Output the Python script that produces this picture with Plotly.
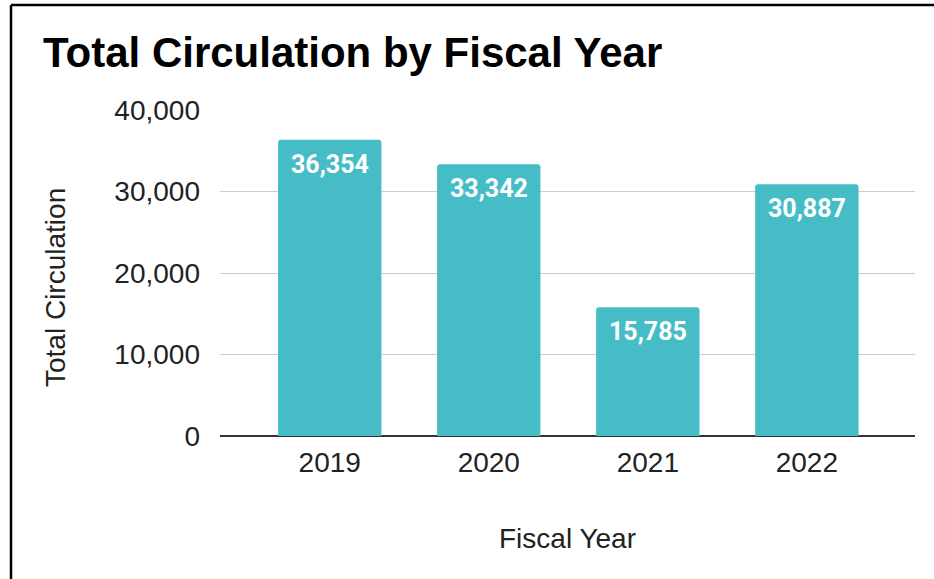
import plotly.graph_objects as go

# Circulation totals per fiscal year
years = ["2019", "2020", "2021", "2022"]
circulation = [36354, 33342, 15785, 30887]
y_ticks = [0, 10000, 20000, 30000, 40000]
y_tick_labels = ["0", "10,000", "20,000", "30,000", "40,000"]

W, H = 934, 579
L, R, T, B = 220, 19, 110, 143
plot_w = W - L - R
plot_h = H - T - B


def px_to_paper_x(px):
    return (px - L) / plot_w


def px_to_paper_y(py):
    return (H - B - py) / plot_h


bar_color = "#46BDC6"
text_font = "Liberation Sans, Arial, sans-serif"

fig = go.Figure(
    go.Bar(
        x=list(range(len(years))),
        y=circulation,
        width=0.65,
        marker=dict(color=bar_color, line=dict(width=0), cornerradius=3),
        hoverinfo="skip",
    )
)

# value labels sitting just inside the top of each bar
value_labels = [
    dict(
        text=f"<b>{v:,}</b>",
        x=i, y=v, xref="x", yref="y",
        xanchor="center", yanchor="top",
        yshift=-8,
        showarrow=False,
        font=dict(family="Roboto, sans-serif", size=25, color="white"),
    )
    for i, v in enumerate(circulation)
]

fig.update_layout(
    width=W,
    height=H,
    margin=dict(l=L, r=R, t=T, b=B),
    paper_bgcolor="white",
    plot_bgcolor="white",
    showlegend=False,
    font=dict(family=text_font, color="#222222"),
    xaxis=dict(
        range=[-0.69, 3.68],
        tickmode="array",
        tickvals=list(range(len(years))),
        ticktext=years,
        tickfont=dict(size=28, color="#222222"),
        showgrid=False,
        zeroline=False,
        showline=False,
        ticks="",
        ticklabelstandoff=7,
        fixedrange=True,
    ),
    yaxis=dict(
        range=[0, 40000],
        tickmode="array",
        tickvals=y_ticks,
        ticktext=y_tick_labels,
        tickfont=dict(size=28, color="#222222"),
        showgrid=True,
        gridcolor="#cccccc",
        gridwidth=1,
        zeroline=True,
        zerolinecolor="#333333",
        zerolinewidth=2,
        showline=False,
        ticks="",
        ticklabelstandoff=19,
        fixedrange=True,
    ),
    annotations=value_labels + [
        dict(
            text="<b>Total Circulation by Fiscal Year</b>",
            xref="paper", yref="paper",
            x=px_to_paper_x(41), y=px_to_paper_y(53),
            xanchor="left", yanchor="middle",
            showarrow=False,
            font=dict(family=text_font, size=42, color="#000000"),
        ),
        dict(
            text="Total Circulation",
            xref="paper", yref="paper",
            x=px_to_paper_x(55), y=px_to_paper_y(288),
            xanchor="center", yanchor="middle",
            textangle=-90,
            showarrow=False,
            font=dict(family=text_font, size=28, color="#222222"),
        ),
        dict(
            text="Fiscal Year",
            xref="paper", yref="paper",
            x=px_to_paper_x(567), y=px_to_paper_y(538),
            xanchor="center", yanchor="middle",
            showarrow=False,
            font=dict(family=text_font, size=28, color="#222222"),
        ),
    ],
    shapes=[
        # frame: left and top edges
        dict(type="line", xref="paper", yref="paper",
             x0=px_to_paper_x(11), x1=px_to_paper_x(11),
             y0=px_to_paper_y(5), y1=px_to_paper_y(600),
             line=dict(color="#000000", width=2.5), layer="above"),
        dict(type="line", xref="paper", yref="paper",
             x0=px_to_paper_x(11), x1=px_to_paper_x(960),
             y0=px_to_paper_y(5), y1=px_to_paper_y(5),
             line=dict(color="#000000", width=2.5), layer="above"),
    ],
)

fig.write_html("out.html", config={"displayModeBar": False})
